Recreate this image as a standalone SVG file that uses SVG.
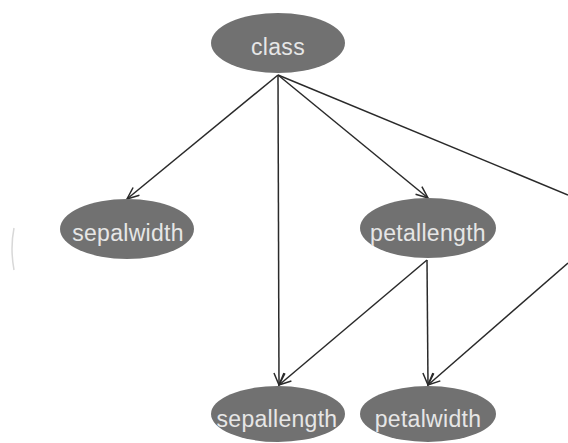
<svg xmlns="http://www.w3.org/2000/svg" width="568" height="443" viewBox="0 0 568 443">
  <style>
    .node ellipse { fill: #717171; stroke: none; }
    .node text { font-family: "Liberation Sans", Arial, sans-serif; font-size: 23px; letter-spacing: 0.3px; fill: #e6e6e6; text-anchor: middle; }
    .edge { stroke: #2a2a2a; stroke-width: 1.5; fill: none; }
  </style>
  <defs>
    <marker id="arrow" viewBox="0 0 14 12" refX="13" refY="6" markerWidth="14" markerHeight="12" markerUnits="userSpaceOnUse" orient="auto">
      <path d="M1,1 L13,6 L1,11" fill="none" stroke="#2a2a2a" stroke-width="1.5"/>
    </marker>
  </defs>

  <rect width="568" height="443" fill="#ffffff"/>

  <!-- faint edge of a shape at the left margin -->
  <path d="M14,228 Q10,248 14,270" fill="none" stroke="#d8d8d8" stroke-width="1.5"/>

  <g id="edges">
    <line class="edge" x1="278" y1="75" x2="127" y2="199" marker-end="url(#arrow)"/>
    <line class="edge" x1="278" y1="75" x2="428" y2="198" marker-end="url(#arrow)"/>
    <line class="edge" x1="278" y1="75" x2="279" y2="385" marker-end="url(#arrow)"/>
    <line class="edge" x1="278" y1="75" x2="568" y2="195"/>
    <line class="edge" x1="427" y1="260" x2="279" y2="385" marker-end="url(#arrow)"/>
    <line class="edge" x1="427" y1="260" x2="428" y2="385" marker-end="url(#arrow)"/>
    <line class="edge" x1="568" y1="263" x2="428" y2="385" marker-end="url(#arrow)"/>
  </g>

  <g id="class" class="node">
    <ellipse cx="278" cy="43" rx="67" ry="30"/>
    <text x="278" y="55">class</text>
  </g>
  <g id="sepalwidth" class="node">
    <ellipse cx="127" cy="229" rx="67" ry="30"/>
    <text x="128" y="241">sepalwidth</text>
  </g>
  <g id="petallength" class="node">
    <ellipse cx="428" cy="228" rx="68" ry="30"/>
    <text x="428" y="241">petallength</text>
  </g>
  <g id="sepallength" class="node">
    <ellipse cx="278" cy="414" rx="67" ry="28"/>
    <text x="277" y="427">sepallength</text>
  </g>
  <g id="petalwidth" class="node">
    <ellipse cx="428" cy="414" rx="68" ry="28"/>
    <text x="428" y="427">petalwidth</text>
  </g>
</svg>
